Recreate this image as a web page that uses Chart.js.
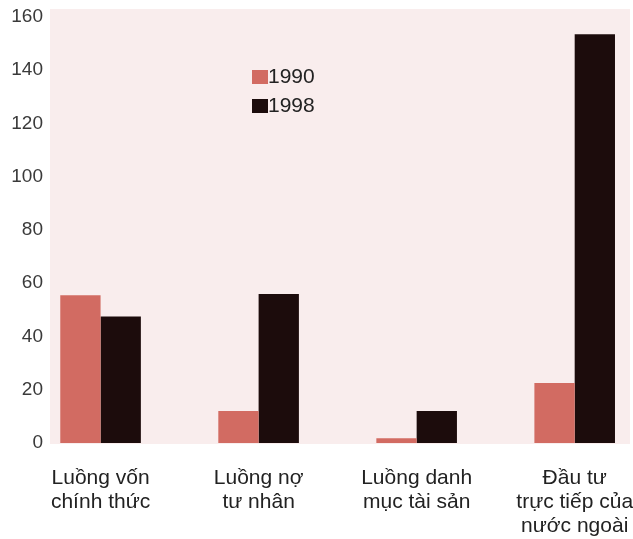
<!DOCTYPE html>
<html>
<head>
<meta charset="utf-8">
<script src="https://cdn.jsdelivr.net/npm/chart.js@4/dist/chart.umd.min.js"></script>
<style>
  html, body { margin: 0; padding: 0; background: #ffffff; }
  #wrap { width: 633px; height: 539px; }
</style>
</head>
<body>
<div id="wrap"><canvas id="c" width="633" height="539"></canvas></div>
<script>
const categories = [
  ["Luồng vốn", "chính thức"],
  ["Luồng nợ", "tư nhân"],
  ["Luồng danh", "mục tài sản"],
  ["Đầu tư", "trực tiếp của", "nước ngoài"]
];
const seriesNames = ["1990", "1998"];
const values1990 = [55.5, 12, 1.8, 22.5];
const values1998 = [47.5, 56, 12, 153.5];
const yTicks = [0, 20, 40, 60, 80, 100, 120, 140, 160];

const FONT = "'Liberation Sans', Arial, Helvetica, sans-serif";

const bgPlugin = {
  id: 'bg',
  beforeDraw(chart) {
    const { ctx, chartArea: a } = chart;
    ctx.save();
    ctx.fillStyle = '#f9eded';
    ctx.fillRect(a.left, a.top, a.right - a.left, a.bottom - a.top + 1);
    ctx.restore();
  }
};

const legendPlugin = {
  id: 'innerLegend',
  afterDatasetsDraw(chart) {
    const { ctx, chartArea: a } = chart;
    ctx.save();
    ctx.font = '21px ' + FONT;
    ctx.textBaseline = 'middle';
    ctx.textAlign = 'left';
    chart.data.datasets.forEach((ds, i) => {
      const x = a.left + 202;
      const y = a.top + 61 + i * 29;
      ctx.fillStyle = ds.backgroundColor;
      ctx.fillRect(x, y, 16, 14);
      ctx.fillStyle = '#222';
      ctx.fillText(ds.label, x + 16, y + 7);
    });
    ctx.restore();
  }
};

new Chart(document.getElementById('c'), {
  type: 'bar',
  data: {
    datasets: [
      { label: seriesNames[0], data: values1990.map((v, i) => ({ x: i, y: v })), backgroundColor: '#d26b62' },
      { label: seriesNames[1], data: values1998.map((v, i) => ({ x: i, y: v })), backgroundColor: '#1c0c0c' }
    ]
  },
  options: {
    responsive: false,
    animation: false,
    devicePixelRatio: 1,
    layout: { padding: { top: 0, right: 3, left: 0, bottom: 0 } },
    datasets: { bar: { categoryPercentage: 0.51, barPercentage: 1.0, borderWidth: 0 } },
    plugins: { legend: { display: false }, tooltip: { enabled: false } },
    scales: {
      x: {
        type: 'linear',
        offset: false,
        min: -0.32,
        max: 3.35,
        grid: { display: false, drawTicks: false, offset: false },
        border: { display: false },
        afterBuildTicks(scale) { scale.ticks = categories.map((_, i) => ({ value: i })); },
        afterFit(scale) { scale.height = 96; scale.paddingLeft = 0; scale.paddingRight = 0; },
        ticks: {
          padding: 23,
          maxRotation: 0,
          minRotation: 0,
          autoSkip: false,
          color: '#222',
          font: { family: FONT, size: 21, lineHeight: 1.14 },
          callback: (v) => categories[v]
        }
      },
      y: {
        min: 0,
        max: 163,
        grid: { display: false, drawTicks: false },
        border: { display: false },
        afterFit(scale) { scale.width = 50; scale.paddingTop = 9; scale.paddingBottom = 0; },
        afterBuildTicks(scale) { scale.ticks = yTicks.map(v => ({ value: v })); },
        ticks: {
          padding: 7,
          color: '#3a3a3a',
          font: { family: FONT, size: 19 }
        }
      }
    }
  },
  plugins: [bgPlugin, legendPlugin]
});
</script>
</body>
</html>
